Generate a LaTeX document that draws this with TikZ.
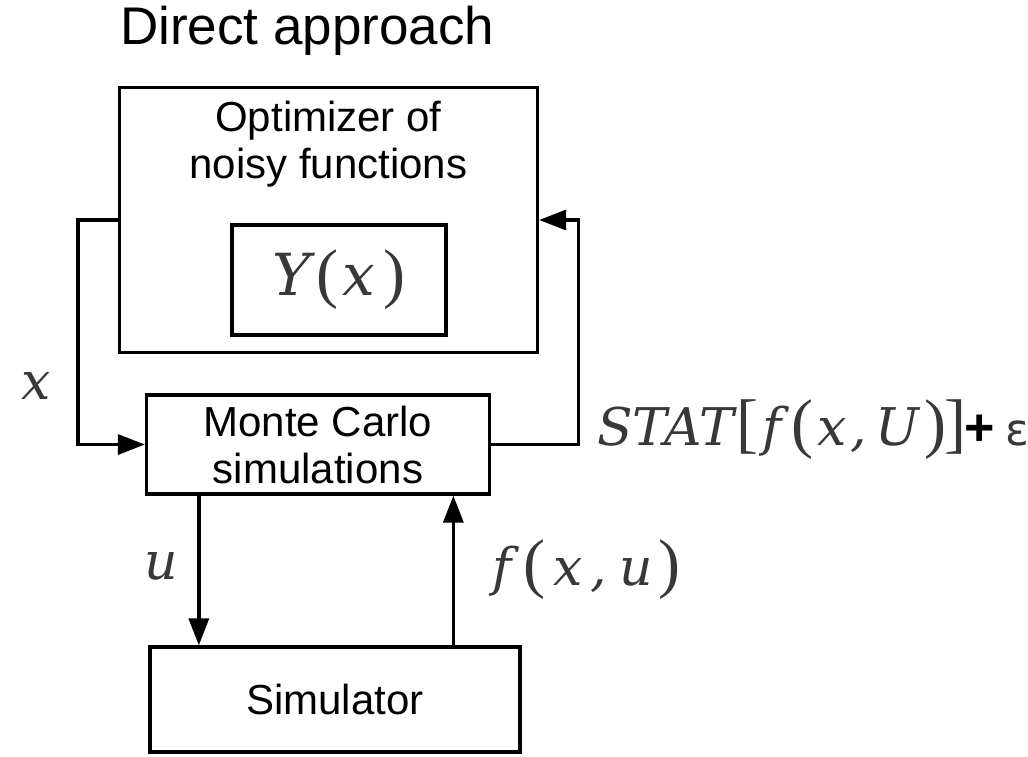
\documentclass[tikz,border=0pt]{standalone}
\usepackage{fontspec}
\setmainfont{Liberation Sans}
\newfontfamily\symfont{DejaVu Serif}
\newfontfamily\parfont{Liberation Serif}
\newfontfamily\epsfont{DejaVu Sans}
\usetikzlibrary{positioning, arrows.meta}
\definecolor{symgrey}{gray}{0.22}
\newcommand{\lp}{{\parfont\upshape\fontsize{66}{66}\selectfont(}}
\newcommand{\rp}{{\parfont\upshape\fontsize{66}{66}\selectfont)}}
\newcommand{\lb}{{\parfont\upshape\fontsize{66}{66}\selectfont[}}
\newcommand{\rb}{{\parfont\upshape\fontsize{66}{66}\selectfont]}}
\tikzset{
    base/.style={draw, line width=3.3pt, rectangle, align=center, font=\fontsize{42}{47}\selectfont},
    txt/.style={align=center, inner sep=0pt, font=\fontsize{42}{47}\selectfont},
    sym/.style={inner sep=0pt, text=symgrey, font=\fontsize{52}{58}\selectfont\symfont\itshape},
    arrow/.style={-{Triangle[length=27pt,width=20pt]}, line width=3.3pt},
    line/.style={draw, line width=3.3pt}
}

\begin{document}
\begin{tikzpicture}[x=1pt, y=-1pt]
    \useasboundingbox (0,0) rectangle (1028,756);

    % Title
    \node [anchor=west, inner sep=0pt, font=\fontsize{53}{60}\selectfont] (title) at (120,31) {Direct approach};

    % Optimizer with the objective inside
    \node [base, minimum width=418pt, minimum height=265pt] (opt) at (328.5,220) {};
    \node [txt, below=15pt of opt.north] (opttext) {Optimizer of\\noisy functions};
    \node [base, minimum width=214pt, minimum height=110pt] (ybox) at (339,280) {};
    \node [sym, font=\fontsize{58}{62}\selectfont\symfont\itshape] (yx) at (ybox.center) {Y\kern6pt\lp\kern4pt x\kern8pt\rp};

    % Monte Carlo and simulator
    \node [base, minimum width=343pt, minimum height=99pt] (mc) at (318,444.5) {Monte Carlo\\simulations};
    \node [base, minimum width=370pt, minimum height=105pt] (sim) at (335,699.5) {Simulator};

    % Connections
    \draw [arrow] (opt.west) -- ++(-40,0) |- (mc.west);
    \draw [arrow] (mc.east) -- ++(87,0) |- (opt.east);
    \coordinate (ufoot) at ([xshift=54pt]mc.south west);
    \coordinate (fbase) at ([xshift=305pt]sim.north west);
    \draw [arrow] (ufoot) -- (ufoot |- sim.north);
    \draw [arrow] (fbase) -- (fbase |- mc.south);

    % Labels
    \node [sym] (xlab) at (36,386) {x};
    \node [sym] (ulab) at (161,566) {u};
    \node [sym, anchor=west] (flab) at (492,570) {f\kern12pt\lp\kern8pt x\kern8pt,\kern12pt u\kern6pt\rp};
    \node [sym, anchor=west] (statlab) at (597,430) {STAT\kern2pt\lb\kern4pt f\kern10pt\lp\kern4pt x\kern4pt,\kern8pt U\kern6pt\rp\kern-2pt\rb\kern-2pt{\normalfont\upshape\bfseries\color{black}+}\kern10pt{\epsfont\upshape\fontsize{44}{44}\selectfont ε}};
\end{tikzpicture}
\end{document}
